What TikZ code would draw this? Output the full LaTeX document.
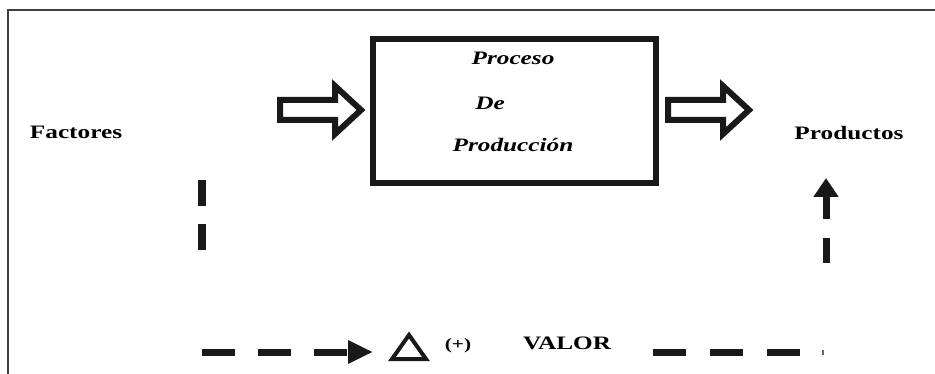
\documentclass[tikz,border=0pt]{standalone}
\usepackage{fontspec}
\setmainfont{Liberation Serif}
\newfontfamily\widefont{Liberation Serif}[FakeStretch=1.33]
\usetikzlibrary{arrows.meta, positioning, calc}

\tikzset{
    lbl/.style={font=\widefont\fontsize{19}{21}\selectfont\bfseries, inner sep=0pt, anchor=base},
    boxtxt/.style={font=\widefont\fontsize{19}{21}\selectfont\bfseries\itshape, inner sep=0pt, anchor=base},
    hollow/.style={draw=black!90, line width=6pt, line join=miter, fill=white},
    dashline/.style={draw=black!90, line width=7pt},
}

% hollow block arrow, starting at the middle of its tail
\newcommand{\hollowarrow}[1]{\draw[hollow] (#1) ++(0,-10) -- ++(55,0) -- ++(0,-14) -- ++(26,24) -- ++(-26,24) -- ++(0,-14) -- ++(-55,0) -- cycle;}

\begin{document}
\begin{tikzpicture}[x=1pt, y=-1pt]
    \useasboundingbox (0,0) rectangle (935,374);

    % frame (cut at right and bottom)
    \draw[line width=2pt, black!75] (8,374) -- (8,10) -- (935,10);

    % process box
    \node[draw=black!90, line width=6pt, minimum width=283pt, minimum height=144pt, inner sep=0pt] (proceso) at (514.5,111) {};
    \node[boxtxt] (t1) at (513,65) {Proceso};
    \node[boxtxt] (t2) at (490,110) {De};
    \node[boxtxt] (t3) at (513,152) {Producción};

    % side labels
    \node[lbl] (factores) at (76,139) {Factores};
    \node[lbl] (productos) at (849,140) {Productos};

    % block arrows in and out
    \coordinate (inarrow) at (280,110);
    \coordinate (outarrow) at (668,110);
    \hollowarrow{inarrow}
    \hollowarrow{outarrow}

    % value line
    \coordinate (ltop) at (202,180);
    \coordinate (lbot) at (202,250);
    \coordinate (lcorner) at (202,352);
    \coordinate (delta) at (409,352);
    \coordinate (rstart) at (653,352);
    \coordinate (rend) at (800,352);
    \coordinate (rlow) at (826,263);
    \coordinate (rtop) at (826,178);

    \draw[dashline, line width=8pt, dash pattern=on 26pt off 18pt] (ltop) -- (lbot);
    \draw[dashline, dash pattern=on 33pt off 23pt, -{Triangle[length=25pt, width=22pt]}] (lcorner) -- ($(delta)+(-36,0)$);
    \draw[dashline, dash pattern=on 33pt off 24pt] (rstart) -- (rend);
    \draw[line width=1.5pt, black!60] (823,350) -- (823,355);
    \draw[dashline, dash pattern=on 25pt off 19pt, -{Triangle[length=19pt, width=24pt]}] (rlow) -- (rtop);

    % delta, (+) and VALOR
    \draw[line width=4pt, black!90, line join=miter] (delta) ++(-17,7) -- ++(34,0) -- ++(-17,-24) -- cycle;
    \node[font=\widefont\fontsize{16}{18}\selectfont\bfseries, inner sep=0pt, anchor=base] (mas) at (458,349) {(+)};
    \node[lbl] (valor) at (567,349) {VALOR};
\end{tikzpicture}
\end{document}
